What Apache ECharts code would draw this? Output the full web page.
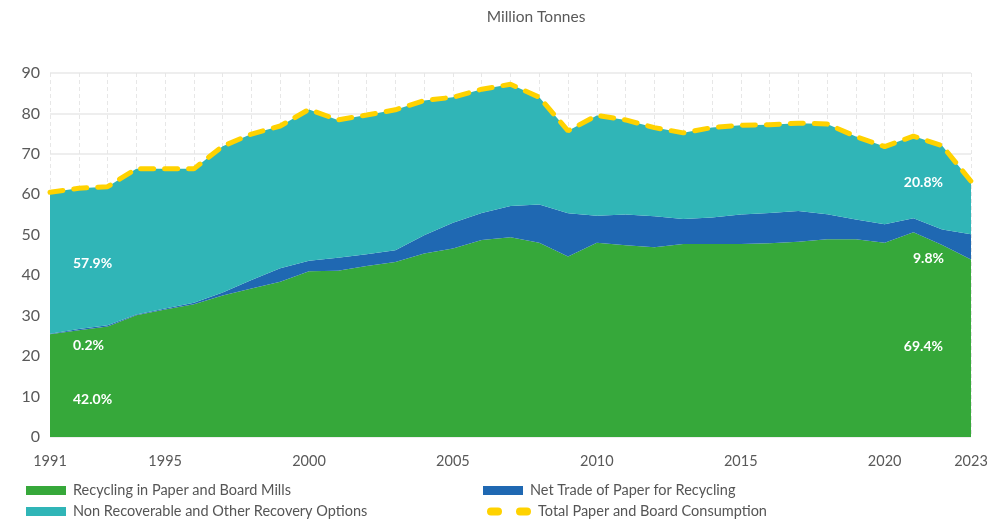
<!DOCTYPE html>
<html>
<head>
<meta charset="utf-8">
<script src="https://cdn.jsdelivr.net/npm/echarts@6/dist/echarts.min.js"></script>
<style>
  html, body { margin: 0; padding: 0; background: #fff; }
  #chart { width: 1004px; height: 522px; }
</style>
</head>
<body>
<div id="chart"></div>
<script>
// Paper flows, million tonnes per year
const years = ['1991','1992','1993','1994','1995','1996','1997','1998','1999','2000',
  '2001','2002','2003','2004','2005','2006','2007','2008','2009','2010',
  '2011','2012','2013','2014','2015','2016','2017','2018','2019','2020',
  '2021','2022','2023'];
const recycling = [25.4, 26.4, 27.3, 30.1, 31.5, 32.8, 35.0, 36.7, 38.4, 41.0,
  41.1, 42.3, 43.3, 45.4, 46.6, 48.7, 49.4, 48.0, 44.6, 48.0,
  47.4, 46.9, 47.7, 47.7, 47.7, 47.9, 48.3, 48.9, 48.9, 48.0,
  50.6, 47.5, 43.9];
const netTrade = [0.1, 0.3, 0.3, 0.2, 0.3, 0.4, 0.7, 2.1, 3.3, 2.6,
  3.2, 2.9, 2.9, 4.5, 6.4, 6.7, 7.7, 9.5, 10.7, 6.7,
  7.6, 7.7, 6.2, 6.6, 7.3, 7.5, 7.6, 6.2, 4.9, 4.6,
  3.5, 3.8, 6.2];
const otherOptions = [35.0, 34.8, 34.3, 36.0, 34.5, 33.1, 36.2, 36.1, 35.2, 37.4,
  34.1, 34.4, 34.7, 33.3, 31.0, 30.6, 30.1, 26.5, 20.4, 24.8,
  23.4, 21.9, 21.3, 22.2, 22.1, 21.8, 21.7, 22.3, 20.5, 19.2,
  20.3, 20.7, 13.15];
const consumption = [60.5, 61.5, 61.9, 66.3, 66.3, 66.3, 71.9, 74.9, 76.9, 81.0,
  78.4, 79.6, 80.9, 83.2, 84.0, 86.0, 87.2, 84.0, 75.7, 79.5,
  78.4, 76.5, 75.2, 76.5, 77.1, 77.2, 77.6, 77.4, 74.3, 71.8,
  74.4, 72.0, 63.25];
const shownYears = ['1991','1995','2000','2005','2010','2015','2020','2023'];
const yTicks = [0, 10, 20, 30, 40, 50, 60, 70, 80, 90];

const names = {
  rec: 'Recycling in Paper and Board Mills',
  trade: 'Net Trade of Paper for Recycling',
  other: 'Non Recoverable and Other Recovery Options',
  total: 'Total Paper and Board Consumption'
};
const colors = { rec: '#36a83a', trade: '#1f68b2', other: '#30b5b7', total: '#ffd200' };
const FONT = 'Lato, "Open Sans", sans-serif';

// share of the year's consumption, one decimal
function share(arr, i) {
  return (arr[i] / consumption[i] * 100).toFixed(1) + '%';
}
const first = 0, last = years.length - 1;

function pctText(text, x, y, align) {
  return {
    type: 'text', z: 20,
    x: x, y: y,
    style: {
      text: text, fill: '#fff', font: 'bold 14px ' + FONT,
      textAlign: align, textVerticalAlign: 'middle'
    }
  };
}

// one legend box per entry so the two-column layout is fixed
function legendItem(name, left, top, icon, w) {
  return {
    left: left, top: top, orient: 'horizontal',
    itemWidth: w || 40, itemHeight: 9, itemGap: 10,
    data: [{ name: name, icon: icon }],
    textStyle: { fontFamily: FONT, fontSize: 14.5, color: '#555', padding: [0, 0, 0, 2] }
  };
}
// two short rounded dashes for the consumption line entry
const dashIcon = 'path://M4,0 L11,0 A4,4 0 0 1 11,8 L4,8 A4,4 0 0 1 4,0 Z M33,0 L40,0 A4,4 0 0 1 40,8 L33,8 A4,4 0 0 1 33,0 Z';

const chart = echarts.init(document.getElementById('chart'), null, { renderer: 'canvas' });
chart.setOption({
  animation: false,
  backgroundColor: '#fff',
  title: {
    text: 'Million Tonnes', left: 531, top: 4, textAlign: 'center',
    textStyle: { fontFamily: FONT, fontSize: 15.5, fontWeight: 'normal', color: '#595959' }
  },
  grid: { left: 50, right: 33, top: 73, bottom: 85 },
  legend: [
    legendItem(names.rec, 21, 478, 'rect'),
    legendItem(names.other, 21, 499, 'rect'),
    legendItem(names.trade, 478, 478, 'rect'),
    legendItem(names.total, 482, 499, dashIcon, 44)
  ],
  xAxis: {
    type: 'category', data: years, boundaryGap: false, z: 3,
    axisLine: { show: false },
    axisTick: { show: false },
    axisLabel: {
      interval: (i, v) => shownYears.includes(v),
      margin: 17, fontFamily: FONT, fontSize: 14.5, color: '#595959'
    },
    splitLine: {
      show: true, interval: 0,
      lineStyle: { color: 'rgba(228,228,228,0.9)', type: [4, 3], width: 1 }
    }
  },
  yAxis: {
    type: 'value', min: yTicks[0], max: yTicks[yTicks.length - 1], interval: 10, z: 3,
    axisLine: { show: false },
    axisTick: { show: false },
    axisLabel: { margin: 10, fontFamily: FONT, fontSize: 16, color: '#595959' },
    splitLine: { lineStyle: { color: 'rgba(228,228,228,0.85)', width: 1.5 } }
  },
  series: [
    {
      name: names.rec, type: 'line', stack: 'flows', data: recycling,
      symbol: 'none', lineStyle: { width: 0 },
      itemStyle: { color: colors.rec },
      areaStyle: { color: colors.rec, opacity: 1 }
    },
    {
      name: names.trade, type: 'line', stack: 'flows', data: netTrade,
      symbol: 'none', lineStyle: { width: 0 },
      itemStyle: { color: colors.trade },
      areaStyle: { color: colors.trade, opacity: 1 }
    },
    {
      name: names.other, type: 'line', stack: 'flows', data: otherOptions,
      symbol: 'none', lineStyle: { width: 0 },
      itemStyle: { color: colors.other },
      areaStyle: { color: colors.other, opacity: 1 }
    },
    {
      name: names.total, type: 'line', data: consumption, z: 6,
      symbol: 'none',
      itemStyle: { color: colors.total },
      lineStyle: { color: colors.total, width: 5, type: [13, 11], cap: 'round' }
    }
  ],
  graphic: [
    pctText(share(otherOptions, first), 73, 263, 'left'),
    pctText(share(netTrade, first), 73, 345, 'left'),
    pctText(share(recycling, first), 73, 399, 'left'),
    pctText(share(otherOptions, last), 943, 182, 'right'),
    pctText(share(netTrade, last), 944, 258, 'right'),
    pctText(share(recycling, last), 943, 346, 'right')
  ]
});
</script>
</body>
</html>
